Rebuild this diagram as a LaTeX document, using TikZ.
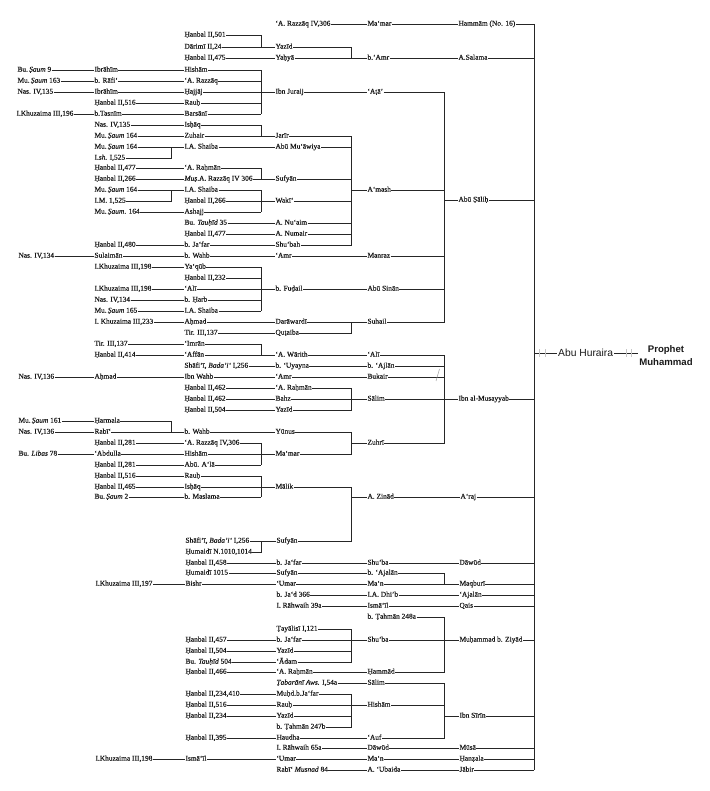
\documentclass[tikz,border=0pt]{standalone}
\usepackage{fontspec}
\setmainfont[FakeBold=0.35]{Liberation Serif}
\newfontfamily\arialf{Liberation Sans}
\begin{document}
\begin{tikzpicture}[x=1pt,y=-1pt,
 lbl/.style={anchor=west,inner sep=0.3pt,text height=5pt,text depth=1.6pt,font=\fontsize{7.4}{8.5}\selectfont,text=black!90},
 ln/.style={draw=black!85,line width=0.7pt},
 big/.style={font=\arialf\fontsize{10.3}{13}\selectfont,inner sep=1pt,text=black!90},
 bigb/.style={font=\arialf\bfseries\fontsize{9.6}{13}\selectfont,inner sep=1pt,text=black!90},
 tickm/.style={draw=black!22,line width=0.5pt}]
\path[use as bounding box] (0,0) rectangle (709,791);
\coordinate (B1) at (171.5,0);
\coordinate (B2) at (261,0);
\coordinate (B3) at (351.5,0);
\coordinate (B4) at (444.5,0);
\coordinate (BF) at (534,0);
% ---- nodes ----
\node[lbl] (d24) at (275,24) {‘A. Razzāq IV,306};
\node[lbl] (e24) at (367,24) {Ma‘mar};
\node[lbl] (f24) at (458,24) {Hammām (No. 16)};
\node[lbl] (c35) at (184,35) {Ḥanbal II,501};
\node[lbl] (c47) at (184,47) {Dārimī II,24};
\node[lbl] (d47) at (275,47) {Yazīd};
\node[lbl] (c58) at (184,58) {Ḥanbal II,475};
\node[lbl] (d58) at (275,58) {Yaḥyā};
\node[lbl] (e58) at (367,58) {b.‘Amr};
\node[lbl] (f58) at (458,58) {A.Salama};
\node[lbl] (a70) at (17,70) {Bu.\,\textit{Ṣaum} 9};
\node[lbl] (b70) at (94,70) {Ibrāhīm};
\node[lbl] (c70) at (184,70) {Hishām};
\node[lbl] (a81) at (17,81) {Mu.\,\textit{Ṣaum} 163};
\node[lbl] (b81) at (94,81) {b. Rāfi‘};
\node[lbl] (c81) at (184,81) {‘A. Razzāq};
\node[lbl] (a92) at (17,92) {Nas. IV,135};
\node[lbl] (b92) at (94,92) {Ibrāhīm};
\node[lbl] (c92) at (184,92) {Ḥajjāj};
\node[lbl] (d92) at (275,92) {Ibn Juraij};
\node[lbl] (e92) at (367,92) {‘Aṭā’};
\node[lbl] (b103) at (94,103) {Ḥanbal II,516};
\node[lbl] (c103) at (184,103) {Rauḥ};
\node[lbl] (a114) at (16,114) {I.Khuzaima III,196};
\node[lbl] (b114) at (94,114) {b.Tasnīm};
\node[lbl] (c114) at (184,114) {Barsānī};
\node[lbl] (b125) at (94,125) {Nas. IV,135};
\node[lbl] (c125) at (184,125) {Isḥāq};
\node[lbl] (b136) at (94,136) {Mu.\,\textit{Ṣaum} 164};
\node[lbl] (c136) at (184,136) {Zuhair};
\node[lbl] (d136) at (275,136) {Jarīr};
\node[lbl] (b147) at (94,147) {Mu.\,\textit{Ṣaum} 164};
\node[lbl] (c147) at (184,147) {I.A. Shaiba};
\node[lbl] (d147) at (275,147) {Abū Mu‘āwiya};
\node[lbl] (b158) at (94,158) {I.\textit{sh.} I,525};
\node[lbl] (b168) at (94,168) {Ḥanbal II,477};
\node[lbl] (c168) at (184,168) {‘A. Raḥmān};
\node[lbl] (b179) at (94,179) {Ḥanbal II,266};
\node[lbl] (c179) at (184,179) {\textit{Muṣ}.A. Razzāq IV 306};
\node[lbl] (d179) at (275,179) {Sufyān};
\node[lbl] (b190) at (94,190) {Mu.\,\textit{Ṣaum} 164};
\node[lbl] (c190) at (184,190) {I.A. Shaiba};
\node[lbl] (e190) at (367,190) {A‘mash};
\node[lbl] (b201) at (94,201) {I.M. 1,525};
\node[lbl] (c201) at (184,201) {Ḥanbal II,266};
\node[lbl] (d201) at (275,201) {Wakī‘};
\node[lbl] (f201) at (458,200) {Abū Ṣāliḥ};
\node[lbl] (b212) at (94,212) {Mu.\,\textit{Ṣaum}. 164};
\node[lbl] (c212) at (184,212) {Ashajj};
\node[lbl] (c223) at (184,223) {Bu. \textit{Tauḥīd} 35};
\node[lbl] (d223) at (275,223) {A. Nu‘aim};
\node[lbl] (c234) at (184,234) {Ḥanbal II,477};
\node[lbl] (d234) at (275,234) {A. Numair};
\node[lbl] (b245) at (94,245) {Ḥanbal II,480};
\node[lbl] (c245) at (184,245) {b. Ja‘far};
\node[lbl] (d245) at (275,245) {Shu‘bah};
\node[lbl] (a256) at (18,256) {Nas. IV,134};
\node[lbl] (b256) at (94,256) {Sulaimān};
\node[lbl] (c256) at (184,256) {b. Wahb};
\node[lbl] (d256) at (275,256) {‘Amr};
\node[lbl] (e256) at (367,256) {Manraz};
\node[lbl] (b267) at (94,267) {I.Khuzaima III,198};
\node[lbl] (c267) at (184,267) {Ya‘qūb};
\node[lbl] (c278) at (184,278) {Ḥanbal II,232};
\node[lbl] (b289) at (94,289) {I.Khuzaima III,198};
\node[lbl] (c289) at (184,289) {‘Alī};
\node[lbl] (d289) at (275,289) {b. Fuḍail};
\node[lbl] (e289) at (367,289) {Abū Sinān};
\node[lbl] (b300) at (94,300) {Nas. IV,134};
\node[lbl] (c300) at (184,300) {b. Ḥarb};
\node[lbl] (b311) at (94,311) {Mu.\,\textit{Ṣaum} 165};
\node[lbl] (c311) at (184,311) {I.A. Shaiba};
\node[lbl] (b322) at (94,322) {I. Khuzaima III,233};
\node[lbl] (c322) at (184,322) {Aḥmad};
\node[lbl] (d322) at (275,322) {Darāwardī};
\node[lbl] (e322) at (367,322) {Suhail};
\node[lbl] (c333) at (184,333) {Tir. III,137};
\node[lbl] (d333) at (275,333) {Quṭaiba};
\node[lbl] (b344) at (94,344) {Tir. III,137};
\node[lbl] (c344) at (184,344) {‘Imrān};
\node[lbl] (b355) at (94,355) {Ḥanbal II,414};
\node[lbl] (c355) at (184,355) {‘Affān};
\node[lbl] (d355) at (275,355) {‘A. Wārith};
\node[lbl] (e355) at (367,355) {‘Alī};
\node[lbl] (c366) at (184,366) {Shāfi‘ī, \textit{Bada’i‘} I,256};
\node[lbl] (d366) at (275,366) {b. ‘Uyayna};
\node[lbl] (e366) at (367,366) {b. ‘Ajlān};
\node[lbl] (a377) at (18,377) {Nas. IV,136};
\node[lbl] (b377) at (94,377) {Aḥmad};
\node[lbl] (c377) at (184,377) {Ibn Wahb};
\node[lbl] (d377) at (275,377) {‘Amr};
\node[lbl] (e377) at (367,377) {Bukair};
\node[lbl] (c388) at (184,388) {Ḥanbal II,462};
\node[lbl] (d388) at (275,388) {‘A. Raḥmān};
\node[lbl] (c399) at (184,399) {Ḥanbal II,462};
\node[lbl] (d399) at (275,399) {Bahz};
\node[lbl] (e399) at (367,399) {Sālim};
\node[lbl] (f399) at (458,399) {Ibn al-Musayyab};
\node[lbl] (c410) at (184,410) {Ḥanbal II,504};
\node[lbl] (d410) at (275,410) {Yazīd};
\node[lbl] (a421) at (18,421) {Mu.\,\textit{Ṣaum} 161};
\node[lbl] (b421) at (94,421) {Ḥarmala};
\node[lbl] (a432) at (18,432) {Nas. IV,136};
\node[lbl] (b432) at (94,432) {Rabī‘};
\node[lbl] (c432) at (184,432) {b. Wahb};
\node[lbl] (d432) at (275,432) {Yūnus};
\node[lbl] (e443) at (367,443) {Zuhrī};
\node[lbl] (b443) at (94,443) {Ḥanbal II,281};
\node[lbl] (c443) at (184,443) {‘A. Razzāq IV,306};
\node[lbl] (a454) at (18,454) {Bu. \textit{Libas} 78};
\node[lbl] (b454) at (94,454) {‘Abdulla};
\node[lbl] (c454) at (184,454) {Hishām};
\node[lbl] (d454) at (275,454) {Ma‘mar};
\node[lbl] (b465) at (94,465) {Ḥanbal II,281};
\node[lbl] (c465) at (184,465) {Abū. A‘lā};
\node[lbl] (b476) at (94,476) {Ḥanbal II,516};
\node[lbl] (c476) at (184,476) {Rauḥ};
\node[lbl] (b487) at (94,487) {Ḥanbal II,465};
\node[lbl] (c487) at (184,487) {Isḥāq};
\node[lbl] (d487) at (275,487) {Mālik};
\node[lbl] (b497) at (94,497) {Bu.\,\textit{Ṣaum} 2};
\node[lbl] (c497) at (184,497) {b. Maslama};
\node[lbl] (e497) at (367,497) {A. Zinād};
\node[lbl] (f497) at (460,497) {A‘raj};
\node[lbl] (c541) at (185,541) {Shāfi‘ī, \textit{Bada’i‘} I,256};
\node[lbl] (d541) at (276,541) {Sufyān};
\node[lbl] (c552) at (185,552) {Ḥumaidī N.1010,1014};
\node[lbl] (c563) at (185,563) {Ḥanbal II,458};
\node[lbl] (d563) at (276,563) {b. Ja‘far};
\node[lbl] (e563) at (367,563) {Shu‘ba};
\node[lbl] (f563) at (459,563) {Dāwūd};
\node[lbl] (c573) at (185,573) {Ḥumaidī 1015};
\node[lbl] (d573) at (276,573) {Sufyān};
\node[lbl] (e573) at (367,573) {b. ‘Ajalān};
\node[lbl] (b584) at (95,584) {I.Khuzaima III,197};
\node[lbl] (c584) at (185,584) {Bishr};
\node[lbl] (d584) at (276,584) {‘Umar};
\node[lbl] (e584) at (367,584) {Ma‘n};
\node[lbl] (f584) at (459,584) {Maqburī};
\node[lbl] (d595) at (276,595) {b. Ja‘d 366};
\node[lbl] (e595) at (367,595) {I.A. Dhi’b};
\node[lbl] (f595) at (459,595) {‘Ajalān};
\node[lbl] (d606) at (276,606) {I. Rāhwaih 39a};
\node[lbl] (e606) at (367,606) {Ismā‘īl};
\node[lbl] (f606) at (459,606) {Qais};
\node[lbl] (e617) at (367,617) {b. Ṭahmān 248a};
\node[lbl] (d629) at (276,629) {Ṭayālisī I,121};
\node[lbl] (c640) at (185,640) {Ḥanbal II,457};
\node[lbl] (d640) at (276,640) {b. Ja‘far};
\node[lbl] (e640) at (367,640) {Shu‘ba};
\node[lbl] (f640) at (459,640) {Muḥammad b. Ziyād};
\node[lbl] (c651) at (185,651) {Ḥanbal II,504};
\node[lbl] (d651) at (276,651) {Yazīd};
\node[lbl] (c662) at (185,662) {Bu. \textit{Tauḥīd} 504};
\node[lbl] (d662) at (276,662) {‘Ādam};
\node[lbl] (c672) at (185,672) {Ḥanbal II,466};
\node[lbl] (d672) at (276,672) {‘A. Raḥmān};
\node[lbl] (e672) at (367,672) {Ḥammād};
\node[lbl] (d683) at (276,683) {\textit{Ṭabarānī Aws.} I,54a};
\node[lbl] (e683) at (367,683) {Sālim};
\node[lbl] (c694) at (185,694) {Ḥanbal II,234,410};
\node[lbl] (d694) at (276,694) {Muḥd.b.Ja‘far};
\node[lbl] (c705) at (185,705) {Ḥanbal II,516};
\node[lbl] (d705) at (276,705) {Rauḥ};
\node[lbl] (e705) at (367,705) {Hishām};
\node[lbl] (c716) at (185,716) {Ḥanbal II,234};
\node[lbl] (d716) at (276,716) {Yazīd};
\node[lbl] (f716) at (459,716) {Ibn Sīrīn};
\node[lbl] (d727) at (276,727) {b. Ṭahmān 247b};
\node[lbl] (c738) at (185,738) {Ḥanbal II,395};
\node[lbl] (d738) at (276,738) {Haudha};
\node[lbl] (e738) at (367,738) {‘Auf};
\node[lbl] (d748) at (276,748) {I. Rāhwaih 65a};
\node[lbl] (e748) at (367,748) {Dāwūd};
\node[lbl] (f748) at (459,748) {Mūsā};
\node[lbl] (b759) at (95,759) {I.Khuzaima III,198};
\node[lbl] (c759) at (185,759) {Ismā‘īl};
\node[lbl] (d759) at (276,759) {‘Umar};
\node[lbl] (e759) at (367,759) {Ma‘n};
\node[lbl] (f759) at (459,759) {Ḥanẓala};
\node[lbl] (d770) at (276,770) {Rabī‘ \textit{Musnad} 84};
\node[lbl] (e770) at (367,770) {A. ‘Ubaida};
\node[lbl] (f770) at (459,770) {Jābir};
\node[big,anchor=west] (ah) at (557,353) {Abu Huraira};
\node[bigb,align=center] (pm) at (666,355.5) {Prophet\\Muhammad};
% ---- connectors ----
\draw[ln] (d24.east)--(e24.west) (e24.east)--(f24.west) (f24.east)--(f24.east -| BF);
\draw[ln] (c35.east)--(c35.east -| B2)--(c47.east -| B2);
\draw[ln] (c47.east)--(d47.west) (d47.east)--(d47.east -| B3)--(d58.east -| B3);
\draw[ln] (c58.east)--(d58.west) (d58.east)--(e58.west) (e58.east)--(f58.west) (f58.east)--(f58.east -| BF);
\draw[ln] (a70.east)--(b70.west) (b70.east)--(c70.west) (c70.east)--(c70.east -| B2)--(c114.east -| B2);
\draw[ln] (a81.east)--(b81.west) (b81.east)--(c81.west) (c81.east)--(c81.east -| B2);
\draw[ln] (a92.east)--(b92.west) (b92.east)--(c92.west) (c92.east)--(d92.west) (d92.east)--(e92.west) (e92.east)--(e92.east -| B4)--(e322.east -| B4);
\draw[ln] (b103.east)--(c103.west) (c103.east)--(c103.east -| B2);
\draw[ln] (a114.east)--(b114.west) (b114.east)--(c114.west) (c114.east)--(c114.east -| B2);
\draw[ln] (b125.east)--(c125.west) (c125.east)--(c125.east -| B2)--(c136.east -| B2);
\draw[ln] (b136.east)--(c136.west) (c136.east)--(d136.west) (d136.east)--(d136.east -| B3)--(d245.east -| B3);
\draw[ln] (b147.east)--(c147.west) (c147.east)--(d147.west) (d147.east)--(d147.east -| B3);
\draw[ln] (b158.east)--(b158.east -| B1)--(b147.east -| B1);
\draw[ln] (b168.east)--(c168.west) (c168.east)--(c168.east -| B2)--(c179.east -| B2);
\draw[ln] (b179.east)--(c179.west) (c179.east)--(d179.west) (d179.east)--(d179.east -| B3);
\draw[ln] (b190.east)--(c190.west) (c190.east)--(c190.east -| B2)--(c212.east -| B2);
\draw[ln] (e190.west -| B3)--(e190.west) (e190.east)--(e190.east -| B4);
\draw[ln] (b201.east)--(b201.east -| B1)--(b190.east -| B1);
\draw[ln] (c201.east)--(d201.west) (d201.east)--(d201.east -| B3);
\draw[ln] (f201.west -| B4)--(f201.west) (f201.east)--(f201.east -| BF);
\draw[ln] (b212.east)--(c212.west) (c212.east)--(c212.east -| B2);
\draw[ln] (c223.east)--(d223.west) (d223.east)--(d223.east -| B3);
\draw[ln] (c234.east)--(d234.west) (d234.east)--(d234.east -| B3);
\draw[ln] (b245.east)--(c245.west) (c245.east)--(d245.west) (d245.east)--(d245.east -| B3);
\draw[ln] (a256.east)--(b256.west) (b256.east)--(c256.west) (c256.east)--(d256.west) (d256.east)--(e256.west) (e256.east)--(e256.east -| B4);
\draw[ln] (b267.east)--(c267.west) (c267.east)--(c267.east -| B2)--(c311.east -| B2);
\draw[ln] (c278.east)--(c278.east -| B2);
\draw[ln] (b289.east)--(c289.west) (c289.east)--(d289.west) (d289.east)--(e289.west) (e289.east)--(e289.east -| B4);
\draw[ln] (b300.east)--(c300.west) (c300.east)--(c300.east -| B2);
\draw[ln] (b311.east)--(c311.west) (c311.east)--(c311.east -| B2);
\draw[ln] (b322.east)--(c322.west) (c322.east)--(d322.west) (d322.east)--(e322.west) (e322.east)--(e322.east -| B4);
\draw[ln] (c333.east)--(d333.west) (d333.east)--(d333.east -| B3)--(d322.east -| B3);
\draw[ln] (b344.east)--(c344.west) (c344.east)--(c344.east -| B2)--(c355.east -| B2);
\draw[ln] (b355.east)--(c355.west) (c355.east)--(d355.west) (d355.east)--(e355.west) (e355.east)--(e355.east -| B4)--(e443.east -| B4);
\draw[ln] (c366.east)--(d366.west) (d366.east)--(e366.west) (e366.east)--(e366.east -| B4);
\draw[ln] (a377.east)--(b377.west) (b377.east)--(c377.west) (c377.east)--(d377.west) (d377.east)--(e377.west) (e377.east)--(e377.east -| B4);
\draw[ln] (c388.east)--(d388.west) (d388.east)--(d388.east -| B3)--(d410.east -| B3);
\draw[ln] (c399.east)--(d399.west) (d399.east)--(e399.west) (e399.east)--(f399.west) (f399.east)--(f399.east -| BF);
\draw[ln] (c410.east)--(d410.west) (d410.east)--(d410.east -| B3);
\draw[ln] (a421.east)--(b421.west) (b421.east)--(b421.east -| B1)--(b432.east -| B1);
\draw[ln] (a432.east)--(b432.west) (b432.east)--(c432.west) (c432.east)--(d432.west) (d432.east)--(d432.east -| B3)--(d454.east -| B3);
\draw[ln] (e443.west -| B3)--(e443.west) (e443.east)--(e443.east -| B4);
\draw[ln] (b443.east)--(c443.west) (c443.east)--(c443.east -| B2)--(c465.east -| B2);
\draw[ln] (a454.east)--(b454.west) (b454.east)--(c454.west) (c454.east)--(d454.west) (d454.east)--(d454.east -| B3);
\draw[ln] (b465.east)--(c465.west) (c465.east)--(c465.east -| B2);
\draw[ln] (b476.east)--(c476.west) (c476.east)--(c476.east -| B2)--(c497.east -| B2);
\draw[ln] (b487.east)--(c487.west) (c487.east)--(d487.west) (d487.east)--(d487.east -| B3)--(d541.east -| B3);
\draw[ln] (b497.east)--(c497.west) (c497.east)--(c497.east -| B2);
\draw[ln] (e497.west -| B3)--(e497.west) (e497.east)--(f497.west) (f497.east)--(f497.east -| BF);
\draw[ln] (c541.east)--(d541.west) (d541.east)--(d541.east -| B3);
\draw[ln] (c552.east)--(c552.east -| B2)--(c541.east -| B2);
\draw[ln] (c563.east)--(d563.west) (d563.east)--(e563.west) (e563.east)--(f563.west) (f563.east)--(f563.east -| BF);
\draw[ln] (c573.east)--(d573.west) (d573.east)--(e573.west) (e573.east)--(e573.east -| B4)--(e584.east -| B4);
\draw[ln] (b584.east)--(c584.west) (c584.east)--(d584.west) (d584.east)--(e584.west) (e584.east)--(f584.west) (f584.east)--(f584.east -| BF);
\draw[ln] (d595.east)--(e595.west) (e595.east)--(f595.west) (f595.east)--(f595.east -| BF);
\draw[ln] (d606.east)--(e606.west) (e606.east)--(f606.west) (f606.east)--(f606.east -| BF);
\draw[ln] (e617.east)--(e617.east -| B4)--(e672.east -| B4);
\draw[ln] (d629.east)--(d629.east -| B3)--(d662.east -| B3);
\draw[ln] (c640.east)--(d640.west) (d640.east)--(e640.west) (e640.east)--(f640.west) (f640.east)--(f640.east -| BF);
\draw[ln] (c651.east)--(d651.west) (d651.east)--(d651.east -| B3);
\draw[ln] (c662.east)--(d662.west) (d662.east)--(d662.east -| B3);
\draw[ln] (c672.east)--(d672.west) (d672.east)--(e672.west) (e672.east)--(e672.east -| B4);
\draw[ln] (d683.east)--(e683.west) (e683.east)--(e683.east -| B4)--(e738.east -| B4);
\draw[ln] (c694.east)--(d694.west) (d694.east)--(d694.east -| B3)--(d727.east -| B3);
\draw[ln] (c705.east)--(d705.west) (d705.east)--(e705.west) (e705.east)--(e705.east -| B4);
\draw[ln] (c716.east)--(d716.west) (d716.east)--(d716.east -| B3);
\draw[ln] (f716.west -| B4)--(f716.west) (f716.east)--(f716.east -| BF);
\draw[ln] (d727.east)--(d727.east -| B3);
\draw[ln] (c738.east)--(d738.west) (d738.east)--(e738.west) (e738.east)--(e738.east -| B4);
\draw[ln] (d748.east)--(e748.west) (e748.east)--(f748.west) (f748.east)--(f748.east -| BF);
\draw[ln] (b759.east)--(c759.west) (c759.east)--(d759.west) (d759.east)--(e759.west) (e759.east)--(f759.west) (f759.east)--(f759.east -| BF);
\draw[ln] (d770.east)--(e770.west) (e770.east)--(f770.west) (f770.east)--(f770.east -| BF);
\draw[ln] (f24.east -| BF)--(f770.east -| BF);
% ---- Abu Huraira / Prophet ----
\draw[ln] (ah.west -| BF)--(ah.west);
\draw[ln] (ah.east)--(ah.east -| pm.west);
\draw[tickm] (539,349)--(539,357) (545,349)--(545,357) (626,349)--(626,357) (631,349)--(631,357);
\draw[draw=black!40,line width=0.5pt] (439.5,369)--(436,381);
\end{tikzpicture}
\end{document}
